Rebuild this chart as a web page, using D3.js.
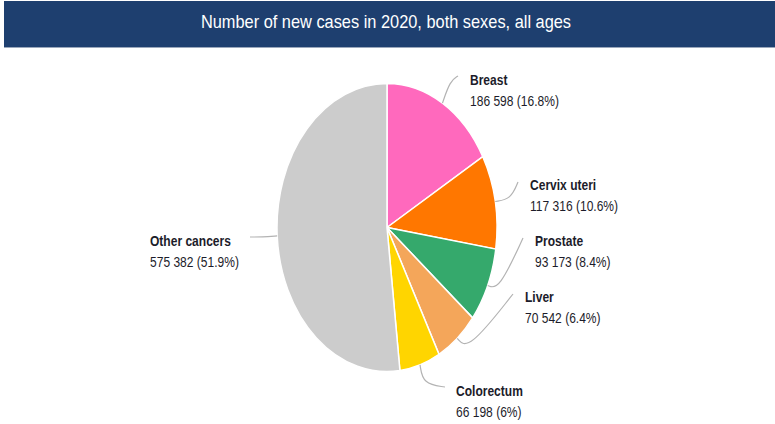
<!DOCTYPE html>
<html>
<head>
<meta charset="utf-8">
<script src="https://cdn.jsdelivr.net/npm/d3@7"></script>
<style>
  html, body { margin: 0; padding: 0; background: #fff; }
  svg { display: block; }
  text { font-family: "Liberation Sans", Arial, sans-serif; }
</style>
</head>
<body>
<svg id="chart" width="775" height="424"></svg>
<script>
// Cancer sites and new cases in 2020
const sites  = ["Breast", "Cervix uteri", "Prostate", "Liver", "Colorectum", "Other cancers"];
const cases  = [186598, 117316, 93173, 70542, 66198, 575382];
const shares = ["16.8%", "10.6%", "8.4%", "6.4%", "6%", "51.9%"];
const colors = ["#ff69bd", "#ff7700", "#35a96c", "#f4a65a", "#ffd500", "#cccccc"];
const title  = "Number of new cases in 2020, both sexes, all ages";

// Label placement: text anchor and the bend points of each leader line
const labelLayout = [
  { x: 470, y: 85,  bends: [[450, 81], [458, 76]] },
  { x: 530, y: 190, bends: [[511, 199], [518, 182]] },
  { x: 535, y: 246, bends: [[499, 290], [523, 238]] },
  { x: 525, y: 302, bends: [[468, 351], [513, 294]] },
  { x: 456, y: 396, bends: [[423, 384], [445, 387]] },
  { x: 150, y: 246, bends: [[262, 237], [250, 237]] }
];

const svg = d3.select("#chart");
const W = 775;
const narrow = 0.86;   // horizontal squeeze for a condensed look

// Title banner
svg.append("rect")
  .attr("x", 4).attr("y", 1)
  .attr("width", W - 4).attr("height", 46)
  .attr("fill", "#1e3f6f");
svg.append("line")
  .attr("x1", 4).attr("x2", W).attr("y1", 47.5).attr("y2", 47.5)
  .attr("stroke", "#9aa7bb").attr("stroke-width", 1);
svg.append("text")
  .attr("transform", `translate(386,28) scale(0.885,1)`)
  .attr("text-anchor", "middle")
  .attr("fill", "#ffffff")
  .attr("font-size", 18.5)
  .text(title);

// Elliptical pie: drawn on a circle of radius ry, stretched horizontally
const cx = 387, cy = 227.5, rx = 110, ry = 144;
const sx = rx / ry;

const data = sites.map((s, i) => ({ site: s, value: cases[i], share: shares[i], color: colors[i], layout: labelLayout[i] }));

const pie = d3.pie().sort(null).value(d => d.value).startAngle(0).endAngle(2 * Math.PI);
const arcs = pie(data);
const arc = d3.arc().innerRadius(0).outerRadius(ry);

const g = svg.append("g").attr("transform", `translate(${cx},${cy}) scale(${sx},1)`);
g.selectAll("path")
  .data(arcs)
  .join("path")
  .attr("d", arc)
  .attr("fill", d => d.data.color)
  .attr("stroke", "#ffffff")
  .attr("stroke-width", 1.5)
  .attr("vector-effect", "non-scaling-stroke");

// Point on the ellipse rim at a given pie angle
function rim(a, k) {
  return [cx + rx * k * Math.sin(a), cy - ry * k * Math.cos(a)];
}

// Leader lines
const leader = d3.line().curve(d3.curveBasis);
svg.append("g").selectAll("path")
  .data(arcs)
  .join("path")
  .attr("d", d => {
    const mid = (d.startAngle + d.endAngle) / 2;
    const p0 = rim(mid, 1.0);
    const b = d.data.layout.bends;
    return leader([p0, p0, b[0], b[1], b[1]]);
  })
  .attr("fill", "none")
  .attr("stroke", "#b3b3b3")
  .attr("stroke-width", 1.2);

// Labels
const fmt = v => d3.format(",")(v).replace(/,/g, " ");
const labels = svg.append("g").selectAll("g")
  .data(arcs)
  .join("g")
  .attr("transform", d => `translate(${d.data.layout.x},${d.data.layout.y}) scale(${narrow},1)`);
labels.append("text")
  .attr("font-size", 14)
  .attr("font-weight", "bold")
  .attr("fill", "#1c1c2a")
  .text(d => d.data.site);
labels.append("text")
  .attr("y", 21)
  .attr("font-size", 14)
  .attr("fill", "#1c1c2a")
  .text(d => `${fmt(d.data.value)} (${d.data.share})`);
</script>
</body>
</html>
